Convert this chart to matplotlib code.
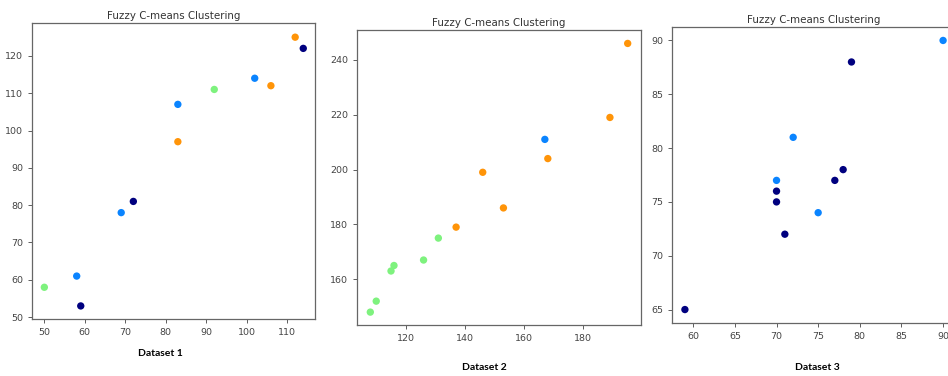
import matplotlib.pyplot as plt

# cluster colours (jet-like)
navy = '#00007f'
blue = '#0a84ff'
green = '#7ef27e'
orange = '#ff9408'

# Dataset 1
x1 = [50, 58, 59, 69, 72, 83, 83, 92, 102, 106, 112, 114]
y1 = [58, 61, 53, 78, 81, 107, 97, 111, 114, 112, 125, 122]
c1 = [green, blue, navy, blue, navy, blue, orange, green, blue, orange, orange, navy]

# Dataset 2
x2 = [108, 110, 115, 116, 126, 131, 137, 146, 153, 167, 168, 189, 195]
y2 = [148, 152, 163, 165, 167, 175, 179, 199, 186, 211, 204, 219, 246]
c2 = [green, green, green, green, green, green, orange, orange, orange, blue, orange, orange, orange]

# Dataset 3
x3 = [59, 70, 70, 70, 71, 72, 75, 77, 78, 79, 90]
y3 = [65, 77, 76, 75, 72, 81, 74, 77, 78, 88, 90]
c3 = [navy, blue, navy, navy, navy, blue, blue, navy, navy, navy, blue]

W, H = 948, 376
fig = plt.figure(figsize=(W / 100, H / 100), dpi=100)

def box(l, t, r, b):
    return [l / W, 1 - b / H, (r - l) / W, (b - t) / H]

ax1 = fig.add_axes(box(32, 23, 315, 319))
ax2 = fig.add_axes(box(357, 30, 641, 325))
ax3 = fig.add_axes(box(672, 27, 956, 323))

panels = [(ax1, x1, y1, c1), (ax2, x2, y2, c2), (ax3, x3, y3, c3)]
for ax, x, y, c in panels:
    ax.scatter(x, y, c=c, s=28, edgecolors='none')
    ax.set_title("Fuzzy C-means Clustering", fontsize=7.4, color='#333333', pad=3)
    ax.tick_params(labelsize=6.8, colors='#444444', length=3, width=0.6)
    for s in ax.spines.values():
        s.set_color('#666666')
        s.set_linewidth(0.9)

ax1.set_xlim(46.95, 116.9)
ax1.set_ylim(49.5, 128.8)
ax1.set_xticks(range(50, 111, 10))
ax1.set_yticks(range(50, 121, 10))

ax2.set_xlim(103.5, 199.5)
ax2.set_ylim(143.3, 250.9)
ax2.set_xticks(range(120, 181, 20))
ax2.set_yticks(range(160, 241, 20))

ax3.set_xlim(57.45, 91.55)
ax3.set_ylim(63.75, 91.25)
ax3.set_xticks(range(60, 91, 5))
ax3.set_yticks(range(65, 91, 5))

lbl = dict(ha='center', va='center', fontsize=7.5, fontweight='bold', family=['Lato', 'DejaVu Sans'])
fig.text(160 / W, 1 - 354 / H, "Dataset 1", **lbl)
fig.text(484 / W, 1 - 368 / H, "Dataset 2", **lbl)
fig.text(817 / W, 1 - 367 / H, "Dataset 3", **lbl)

fig.savefig("out.png", dpi=100)
